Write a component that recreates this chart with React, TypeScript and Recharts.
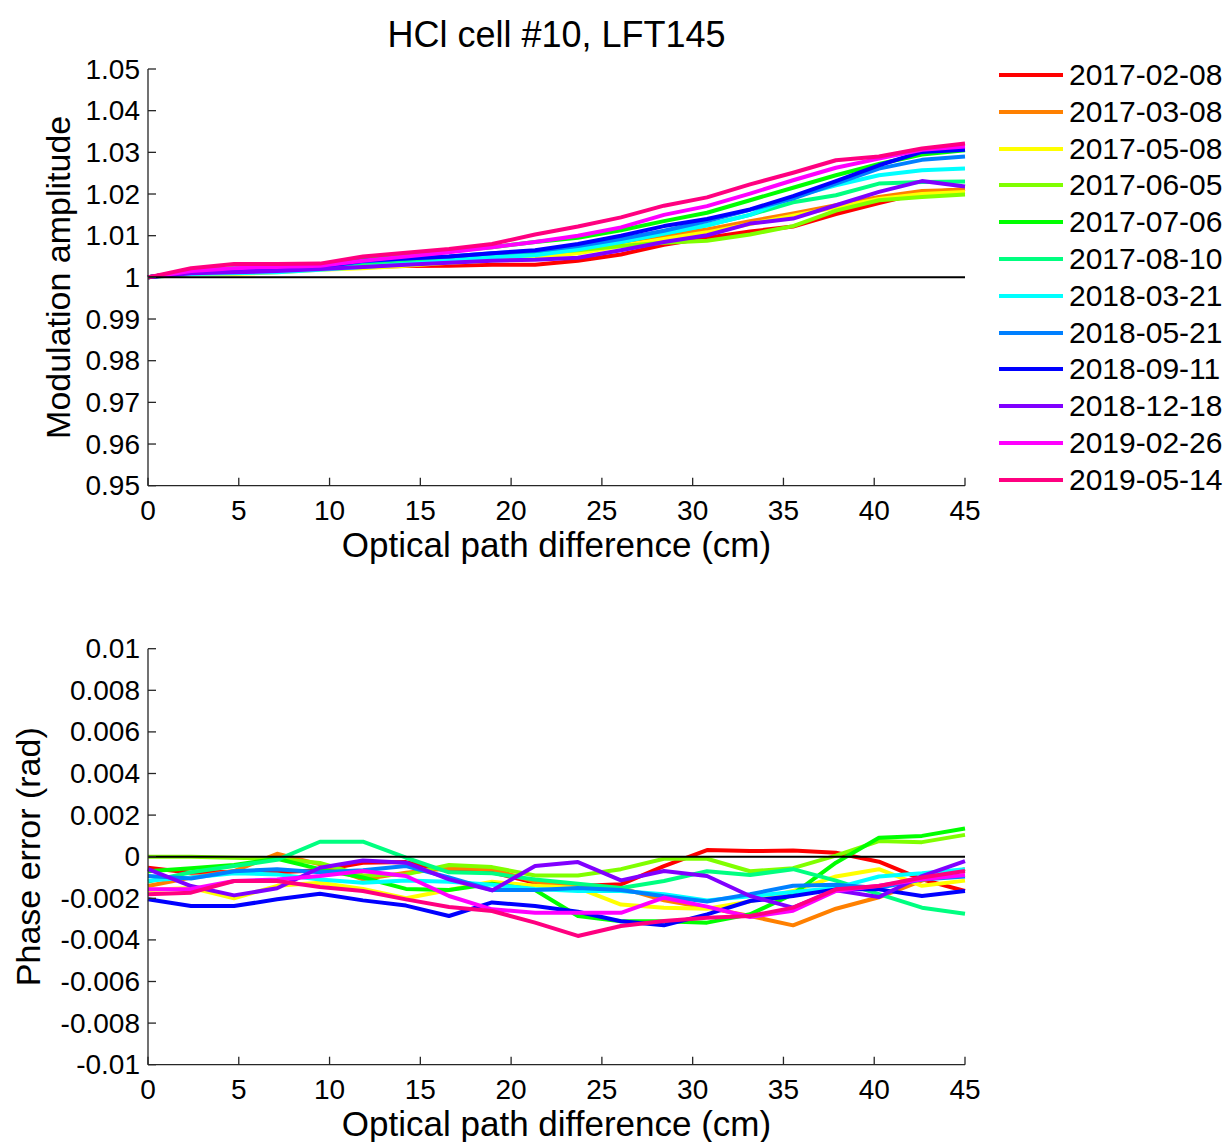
import React from 'react';
import { LineChart, Line, XAxis, YAxis, ReferenceLine, Label } from 'recharts';

// optical path difference (cm), 20 samples
const opd = [0, 2.37, 4.74, 7.11, 9.47, 11.84, 14.21, 16.58, 18.95, 21.32, 23.68, 26.05, 28.42, 30.79, 33.16, 35.53, 37.89, 40.26, 42.63, 45];

const dates = ['2017-02-08', '2017-03-08', '2017-05-08', '2017-06-05', '2017-07-06', '2017-08-10', '2018-03-21', '2018-05-21', '2018-09-11', '2018-12-18', '2019-02-26', '2019-05-14'];
const colors = ['#ff0000', '#ff8000', '#ffff00', '#80ff00', '#00ff00', '#00ff80', '#00ffff', '#0080ff', '#0000ff', '#8000ff', '#ff00ff', '#ff0080'];

const xTicks = [0, 5, 10, 15, 20, 25, 30, 35, 40, 45];
const xTickLabels = ['0', '5', '10', '15', '20', '25', '30', '35', '40', '45'];
const ampTicks = [0.95, 0.96, 0.97, 0.98, 0.99, 1, 1.01, 1.02, 1.03, 1.04, 1.05];
const ampTickLabels = ['0.95', '0.96', '0.97', '0.98', '0.99', '1', '1.01', '1.02', '1.03', '1.04', '1.05'];
const phaseTicks = [-0.01, -0.008, -0.006, -0.004, -0.002, 0, 0.002, 0.004, 0.006, 0.008, 0.01];
const phaseTickLabels = ['-0.01', '-0.008', '-0.006', '-0.004', '-0.002', '0', '0.002', '0.004', '0.006', '0.008', '0.01'];

// modulation amplitude
const amp170208 = [1, 1.0015, 1.002, 1.002, 1.0022, 1.0025, 1.0027, 1.0028, 1.003, 1.003, 1.004, 1.0055, 1.0078, 1.0095, 1.011, 1.0122, 1.0152, 1.0178, 1.0203, 1.0212];
const amp170308 = [1, 1.0015, 1.0018, 1.002, 1.0025, 1.003, 1.0035, 1.004, 1.005, 1.0058, 1.0068, 1.0085, 1.01, 1.0115, 1.0135, 1.0153, 1.0173, 1.0193, 1.0207, 1.021];
const amp170508 = [1, 1.0008, 1.0008, 1.0012, 1.0018, 1.0022, 1.0028, 1.0035, 1.004, 1.0048, 1.0058, 1.0075, 1.0092, 1.0108, 1.0128, 1.0148, 1.0168, 1.0188, 1.02, 1.0205];
const amp170605 = [1, 1.0012, 1.0015, 1.0018, 1.0022, 1.0028, 1.0035, 1.0045, 1.0052, 1.0058, 1.0065, 1.0075, 1.0083, 1.0088, 1.0103, 1.0123, 1.016, 1.0185, 1.0193, 1.0199];
const amp170706 = [1, 1.0018, 1.0022, 1.0025, 1.003, 1.0045, 1.0055, 1.0063, 1.0072, 1.0085, 1.0095, 1.0113, 1.0135, 1.0155, 1.0185, 1.0215, 1.0245, 1.0272, 1.0295, 1.0305];
const amp170810 = [1, 1.0012, 1.0015, 1.0018, 1.0025, 1.0035, 1.004, 1.0048, 1.0055, 1.006, 1.007, 1.0085, 1.0105, 1.0125, 1.015, 1.018, 1.0197, 1.0225, 1.0229, 1.023];
const amp180321 = [1, 1.0008, 1.001, 1.0012, 1.0018, 1.0025, 1.0032, 1.004, 1.0048, 1.0053, 1.0067, 1.0085, 1.0105, 1.0125, 1.015, 1.0193, 1.0221, 1.0245, 1.0257, 1.0261];
const amp180521 = [1, 1.0012, 1.0015, 1.002, 1.0025, 1.0038, 1.0045, 1.005, 1.0058, 1.0063, 1.0075, 1.0092, 1.0112, 1.0135, 1.0162, 1.0189, 1.0225, 1.0261, 1.0282, 1.029];
const amp180911 = [1, 1.0015, 1.0018, 1.002, 1.0025, 1.004, 1.0045, 1.005, 1.0058, 1.0065, 1.008, 1.01, 1.0123, 1.014, 1.0163, 1.0195, 1.0231, 1.0269, 1.0301, 1.0306];
const amp181218 = [1, 1.001, 1.0012, 1.0015, 1.002, 1.0025, 1.003, 1.0035, 1.004, 1.0042, 1.0047, 1.0065, 1.0085, 1.0101, 1.0129, 1.0141, 1.0173, 1.0205, 1.0231, 1.0218];
const amp190226 = [1, 1.0015, 1.0022, 1.0025, 1.0028, 1.004, 1.005, 1.006, 1.0072, 1.0085, 1.01, 1.012, 1.015, 1.0171, 1.0201, 1.0233, 1.0263, 1.0285, 1.0306, 1.0314];
const amp190514 = [1, 1.0022, 1.0032, 1.0032, 1.0033, 1.005, 1.0059, 1.0068, 1.008, 1.0103, 1.0122, 1.0144, 1.0172, 1.0192, 1.0223, 1.0251, 1.0281, 1.029, 1.0309, 1.0321];

// phase error (rad)
const ph170208 = [-0.00053, -0.00077, -0.00072, -0.00075, -0.00065, -0.00029, -0.00026, -0.00069, -0.00075, -0.00125, -0.00141, -0.00133, -0.00045, 0.00032, 0.00027, 0.0003, 0.00019, -0.00024, -0.00109, -0.00165];
const ph170308 = [-0.00141, -0.001, -0.00069, 0.00014, -0.00037, -0.00109, -0.00077, -0.00055, -0.0006, -0.0012, -0.0014, -0.0015, -0.0021, -0.00245, -0.00285, -0.0033, -0.0025, -0.00195, -0.00115, -0.0006];
const ph170508 = [-0.0016, -0.0015, -0.002, -0.0014, -0.00125, -0.00155, -0.002, -0.0016, -0.0012, -0.0014, -0.0015, -0.0023, -0.00245, -0.0025, -0.00215, -0.00165, -0.00095, -0.0006, -0.0014, -0.00115];
const ph170605 = [0, 0, -0.00005, -0.0001, -0.0003, -0.0009, -0.00085, -0.0004, -0.0005, -0.0009, -0.0009, -0.0006, -0.0001, -0.0001, -0.0007, -0.00055, 0.00005, 0.00075, 0.0007, 0.00105];
const ph170706 = [-0.0007, -0.00055, -0.0004, -0.0001, -0.0006, -0.001, -0.00155, -0.0016, -0.0013, -0.0016, -0.00285, -0.0031, -0.0031, -0.00317, -0.00277, -0.0018, -0.00029, 0.00091, 0.001, 0.00136];
const ph170810 = [-0.0012, -0.00075, -0.00045, -0.00015, 0.00072, 0.00072, -0.00005, -0.00075, -0.0008, -0.0011, -0.0013, -0.0015, -0.00117, -0.0007, -0.00088, -0.0006, -0.00115, -0.0018, -0.00245, -0.00274];
const ph180321 = [-0.00115, -0.001, -0.0008, -0.00085, -0.0011, -0.00125, -0.00115, -0.0012, -0.00135, -0.00155, -0.00165, -0.00165, -0.0018, -0.0021, -0.0019, -0.0017, -0.0015, -0.00095, -0.0008, -0.0006];
const ph180521 = [-0.00093, -0.00105, -0.0007, -0.0006, -0.00075, -0.00065, -0.00045, -0.001, -0.0016, -0.0016, -0.0015, -0.0016, -0.0019, -0.00215, -0.0018, -0.0014, -0.00135, -0.0015, -0.0011, -0.00095];
const ph180911 = [-0.00205, -0.00237, -0.00237, -0.00205, -0.00178, -0.0021, -0.00235, -0.00285, -0.0022, -0.00237, -0.00265, -0.0031, -0.0033, -0.00277, -0.00213, -0.00189, -0.00157, -0.00157, -0.00189, -0.00165];
const ph181218 = [-0.0006, -0.00141, -0.00186, -0.00152, -0.00053, -0.00018, -0.00029, -0.00109, -0.00162, -0.00045, -0.00026, -0.00114, -0.00069, -0.00093, -0.00189, -0.00245, -0.00162, -0.00194, -0.00093, -0.00021];
const ph190226 = [-0.00157, -0.00155, -0.00117, -0.0011, -0.00093, -0.00069, -0.00093, -0.00189, -0.00253, -0.00269, -0.00269, -0.0027, -0.00197, -0.0024, -0.0029, -0.0026, -0.00165, -0.0014, -0.00109, -0.00088];
const ph190514 = [-0.0018, -0.00173, -0.00117, -0.00117, -0.00146, -0.00165, -0.00205, -0.00242, -0.00261, -0.00317, -0.00381, -0.00333, -0.00309, -0.00293, -0.00285, -0.00245, -0.00157, -0.00141, -0.001, -0.00069];

const ampSeries = [amp170208, amp170308, amp170508, amp170605, amp170706, amp170810, amp180321, amp180521, amp180911, amp181218, amp190226, amp190514];
const phaseSeries = [ph170208, ph170308, ph170508, ph170605, ph170706, ph170810, ph180321, ph180521, ph180911, ph181218, ph190226, ph190514];

const toRows = (series: number[][]) =>
  opd.map((x, i) => {
    const row: Record<string, number> = { x };
    series.forEach((s, k) => {
      row['s' + k] = s[i];
    });
    return row;
  });

const ampRows = toRows(ampSeries);
const phaseRows = toRows(phaseSeries);

const font = 'Arial, "Liberation Sans", Helvetica, sans-serif';
const boxColor = '#262626';

const labelFor = (ticks: number[], labels: string[], v: number) => {
  const i = ticks.findIndex((t) => Math.abs(t - v) < 1e-9);
  return i >= 0 ? labels[i] : String(v);
};

// left axis: label plus an inward tick
const leftTick = (ticks: number[], labels: string[]) => (p: any) => (
  <g>
    <line x1={p.x + 8} x2={p.x + 16} y1={p.y} y2={p.y} stroke={boxColor} strokeWidth={1.3} />
    <text x={p.x} y={p.y + 9.5} textAnchor="end" fontSize={28} fontFamily={font} fill="#000">
      {labelFor(ticks, labels, p.payload.value)}
    </text>
  </g>
);

const bottomTick = (p: any) => (
  <g>
    <line x1={p.x} x2={p.x} y1={p.y - 14} y2={p.y - 22} stroke={boxColor} strokeWidth={1.3} />
    <text x={p.x} y={p.y + 20.3} textAnchor="middle" fontSize={28} fontFamily={font} fill="#000">
      {labelFor(xTicks, xTickLabels, p.payload.value)}
    </text>
  </g>
);

const topTick = (p: any) => (
  <line x1={p.x} x2={p.x} y1={p.y} y2={p.y + 8} stroke={boxColor} strokeWidth={1.3} />
);

const rightTick = (p: any) => (
  <line x1={p.x - 8} x2={p.x} y1={p.y} y2={p.y} stroke={boxColor} strokeWidth={1.3} />
);

const yTitle = (text: string, baselineX: number) => (props: any) => {
  const vb = props.viewBox || { x: 0, y: 0, width: 0, height: 0 };
  const cy = vb.y + vb.height / 2;
  return (
    <text
      x={baselineX}
      y={cy}
      transform={`rotate(-90 ${baselineX} ${cy})`}
      textAnchor="middle"
      fontSize={34}
      fontFamily={font}
      fill="#000"
    >
      {text}
    </text>
  );
};

const xTitle = (props: any) => {
  const vb = props.viewBox || { x: 0, y: 0, width: 0, height: 0 };
  return (
    <text x={vb.x + vb.width / 2} y={vb.y + 71.3} textAnchor="middle" fontSize={35} fontFamily={font} fill="#000">
      Optical path difference (cm)
    </text>
  );
};

type PanelProps = {
  rows: Record<string, number>[];
  height: number;
  margin: { top: number; right: number; bottom: number; left: number };
  xAxisHeight: number;
  yDomain: [number, number];
  yTicks: number[];
  yLabels: string[];
  yTitleText: string;
  yTitleX: number;
  zero: number;
};

const Panel = ({ rows, height, margin, xAxisHeight, yDomain, yTicks, yLabels, yTitleText, yTitleX, zero }: PanelProps) => (
  <LineChart width={1227} height={height} data={rows} margin={margin}>
    <XAxis
      dataKey="x"
      type="number"
      domain={[0, 45]}
      ticks={xTicks}
      interval={0}
      height={xAxisHeight}
      tickSize={0}
      tickMargin={14}
      tickLine={false}
      axisLine={{ stroke: boxColor, strokeWidth: 1.3 }}
      tick={bottomTick}
    >
      <Label content={xTitle} />
    </XAxis>
    <XAxis
      xAxisId="top"
      orientation="top"
      type="number"
      domain={[0, 45]}
      ticks={xTicks}
      interval={0}
      height={0}
      tickSize={0}
      tickMargin={0}
      tickLine={false}
      axisLine={{ stroke: boxColor, strokeWidth: 1.3 }}
      tick={topTick}
    />
    <YAxis
      type="number"
      domain={yDomain}
      ticks={yTicks}
      interval={0}
      width={148}
      tickSize={0}
      tickMargin={8}
      tickLine={false}
      axisLine={{ stroke: boxColor, strokeWidth: 1.3 }}
      tick={leftTick(yTicks, yLabels)}
    >
      <Label content={yTitle(yTitleText, yTitleX)} />
    </YAxis>
    <YAxis
      yAxisId="right"
      orientation="right"
      type="number"
      domain={yDomain}
      ticks={yTicks}
      interval={0}
      width={0}
      tickSize={0}
      tickMargin={0}
      tickLine={false}
      axisLine={{ stroke: boxColor, strokeWidth: 1.3 }}
      tick={rightTick}
    />
    {dates.map((d, k) => (
      <Line
        key={d}
        name={d}
        dataKey={'s' + k}
        type="linear"
        stroke={colors[k]}
        strokeWidth={4}
        strokeLinejoin="round"
        dot={false}
        activeDot={false}
        isAnimationActive={false}
      />
    ))}
    <ReferenceLine y={zero} stroke="#000" strokeWidth={2} />
  </LineChart>
);

export default function App() {
  return (
    <div style={{ position: 'absolute', left: 0, top: 0, width: 1227, height: 1142, background: '#fff', fontFamily: font }}>
      <div
        style={{
          position: 'absolute',
          left: 156.5,
          top: 17,
          width: 800,
          textAlign: 'center',
          fontSize: 36,
          lineHeight: '36px',
          color: '#000',
        }}
      >
        HCl cell #10, LFT145
      </div>

      <div style={{ position: 'absolute', left: 0, top: 0 }}>
        <Panel
          rows={ampRows}
          height={580}
          margin={{ top: 69, right: 262, bottom: 14.3, left: 0 }}
          xAxisHeight={80}
          yDomain={[0.95, 1.05]}
          yTicks={ampTicks}
          yLabels={ampTickLabels}
          yTitleText="Modulation amplitude"
          yTitleX={70}
          zero={1}
        />
      </div>

      <div style={{ position: 'absolute', left: 0, top: 580 }}>
        <Panel
          rows={phaseRows}
          height={562}
          margin={{ top: 68.7, right: 262, bottom: 0.3, left: 0 }}
          xAxisHeight={77}
          yDomain={[-0.01, 0.01]}
          yTicks={phaseTicks}
          yLabels={phaseTickLabels}
          yTitleText="Phase error (rad)"
          yTitleX={40}
          zero={0}
        />
      </div>

      <div style={{ position: 'absolute', left: 999, top: 56.6 }}>
        {dates.map((d, k) => (
          <div key={d} style={{ display: 'flex', alignItems: 'center', height: 36.8 }}>
            <div style={{ width: 64, height: 4, background: colors[k], marginRight: 6 }} />
            <span style={{ fontSize: 30, lineHeight: '30px', color: '#000', whiteSpace: 'nowrap' }}>{d}</span>
          </div>
        ))}
      </div>
    </div>
  );
}
